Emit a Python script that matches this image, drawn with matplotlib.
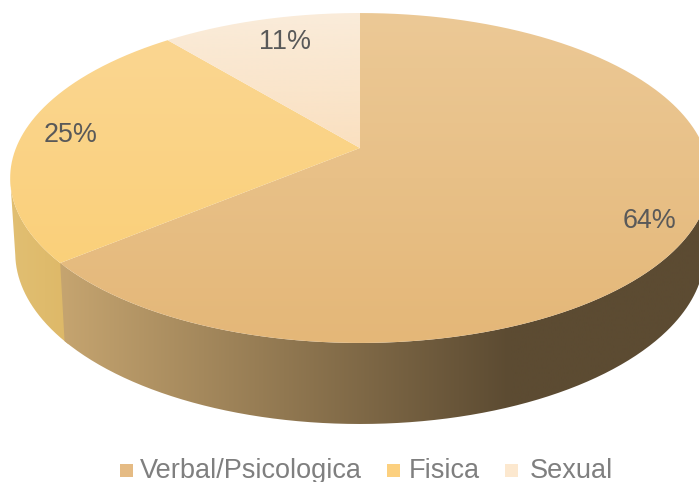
import numpy as np
import matplotlib
matplotlib.use("Agg")
import matplotlib.pyplot as plt
from matplotlib.path import Path
from matplotlib.patches import PathPatch

categories = ["Verbal/Psicologica", "Fisica", "Sexual"]
values = [64, 25, 11]
legend_colors = ["#E5BB84", "#FCD07F", "#FCE8CF"]

# top gradients (upper colour, lower colour) per slice
top_grad = [((236, 201, 150), (228, 183, 120)),
            ((250, 214, 145), (251, 208, 122)),
            ((250, 236, 218), (250, 224, 192))]
# side gradients, left to right
main_side = ((198, 165, 112), (92, 75, 50))
yellow_side = ((226, 192, 116), (220, 182, 100))

plt.rcParams['font.family'] = ['Liberation Sans', 'DejaVu Sans']

CX, K = 360, 60 / 330


def top_xy(theta):
    u, v = np.sin(theta), np.cos(theta)
    w = 1 + K * v
    return CX + 344 * u / w, (148 - 132.6 * v) / w


def bottom_xy(theta):
    u, v = np.sin(theta), np.cos(theta)
    w = 1 + K * v
    return CX + 339 * u / w, (221.9 - 125 * v) / w


def grad_image(ax, c1, c2, extent, axis, clip, stop=1.0):
    t = np.clip(np.linspace(0, 1, 256) / stop, 0, 1)
    c1, c2 = np.array(c1), np.array(c2)
    rgb = np.array([c1 + (c2 - c1) * s for s in t]) / 255
    img = rgb[:, None, :] if axis == "y" else rgb[None, :, :]
    im = ax.imshow(img, extent=extent, aspect="auto", interpolation="bilinear", origin="upper")
    patch = PathPatch(clip, transform=ax.transData, fc="none", ec="none")
    ax.add_patch(patch)
    im.set_clip_path(patch)


def side_path(a, b):
    th = np.linspace(a, b, 300)
    tx, ty = top_xy(th)
    bx, by = bottom_xy(th[::-1])
    return Path(np.column_stack([np.r_[tx, bx], np.r_[ty, by]]))


fig = plt.figure(figsize=(6.99, 4.82), dpi=100)
ax = fig.add_axes([0, 0, 1, 1])

bounds = np.cumsum([0] + values) / sum(values) * 2 * np.pi

# the silhouette of the disc sits where cos(theta) = -K on each side
right_edge = np.arccos(-K)
left_edge = 2 * np.pi - right_edge

grad_image(ax, yellow_side[0], yellow_side[1], (0, 90, 440, 0), "x",
           side_path(bounds[1] - 0.02, left_edge))
grad_image(ax, main_side[0], main_side[1], (58, 700, 440, 0), "x",
           side_path(right_edge, bounds[1]), stop=(510 - 58) / (700 - 58))

# top faces
for i in range(3):
    th = np.linspace(bounds[i], bounds[i + 1], 300)
    tx, ty = top_xy(th)
    clip = Path(np.column_stack([np.r_[CX, tx, CX], np.r_[148, ty, 148]]))
    y0, y1 = min(ty.min(), 148), max(ty.max(), 148)
    grad_image(ax, top_grad[i][0], top_grad[i][1], (0, 700, y1, y0), "y", clip)

ax.set_xlim(0, 699)
ax.set_ylim(482, 0)
ax.axis("off")

# data labels
label_pos = [(649, 221), (71, 135), (285, 42)]
for v, (x, y) in zip(values, label_pos):
    ax.text(x, y, "%d%%" % v, fontsize=19.4, color="#595959", ha="center", va="center")

# legend along the bottom, the reference also loses the descender at the edge
square_x = [120, 387, 505]
text_x = [140, 409, 530]
for name, col, sx, tx_ in zip(categories, legend_colors, square_x, text_x):
    ax.add_patch(plt.Rectangle((sx, 464), 13, 13, fc=col, ec="none"))
    ax.text(tx_, 471, name, fontsize=19.5, color="#7F7F7F", ha="left", va="center")

fig.savefig("out.png", dpi=100)
